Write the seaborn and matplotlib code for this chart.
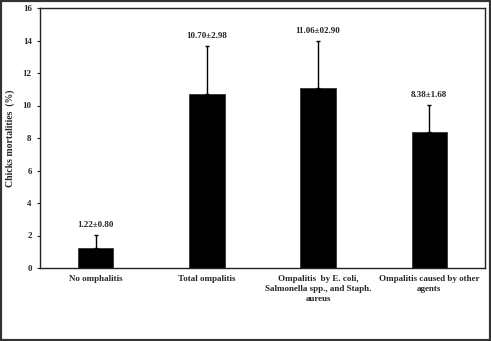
import matplotlib
matplotlib.use("Agg")
import matplotlib.pyplot as plt
import seaborn as sns
import pandas as pd
from matplotlib.patches import Rectangle

categories = ["No omphalitis", "Total ompalitis",
              "Ompalitis  by E. coli,\nSalmonella spp., and Staph.\naureus",
              "Ompalitis caused by other\nagents"]
means = [1.22, 10.70, 11.06, 8.38]
errors = [0.80, 2.98, 2.90, 1.68]
labels = ["1.22±0.80", "10.70±2.98", "11.06±02.90", "8.38±1.68"]
yticks = [0, 2, 4, 6, 8, 10, 12, 14, 16]

sns.set_theme(style="white")
plt.rcParams['font.family'] = ['Liberation Serif', 'DejaVu Serif']
plt.rcParams['font.weight'] = 'bold'

df = pd.DataFrame({"cat": categories, "mean": means})

fig = plt.figure(figsize=(4.91, 3.41), dpi=100)
ax = fig.add_axes([40/491, 1 - 268/341, 445/491, 260/341])
sns.barplot(data=df, x="cat", y="mean", color="black", width=0.32,
            edgecolor="#333333", linewidth=0.6, ax=ax, saturation=1)
ax.errorbar(range(len(means)), means, yerr=[[0]*len(means), errors],
            fmt="none", ecolor="black", elinewidth=1.0, capsize=1.5, capthick=1.0)
for i, (m, e, t) in enumerate(zip(means, errors, labels)):
    ax.text(i, m + e + 0.35, t, ha="center", va="bottom", fontsize=6.5, fontweight="bold")

ax.set_xlim(-0.5, 3.5)
ax.set_ylim(0, 16)
ax.set_yticks(yticks)
ax.set_yticklabels([str(v) for v in yticks], fontsize=6.5, fontweight="bold")
ax.set_xticks(range(len(categories)))
ax.set_xticklabels(categories, fontsize=6.5, fontweight="bold", linespacing=1.35, va="top")
ax.tick_params(axis="x", length=0, pad=5)
ax.tick_params(axis="y", length=2, width=0.8, left=True, pad=4, direction="out")
ax.set_xlabel("")
ax.set_ylabel("Chicks mortalities  (%)", fontsize=7, fontweight="bold")
ax.yaxis.set_label_coords(-25/445, 0.5)
for s in ax.spines.values():
    s.set_visible(True)
    s.set_color("#222222")
    s.set_linewidth(1.0)

fig.patches.append(Rectangle((0, 0), 1, 1, transform=fig.transFigure, fill=False,
                             edgecolor="#333333", linewidth=3, zorder=10))
fig.savefig("out.png", dpi=100)
